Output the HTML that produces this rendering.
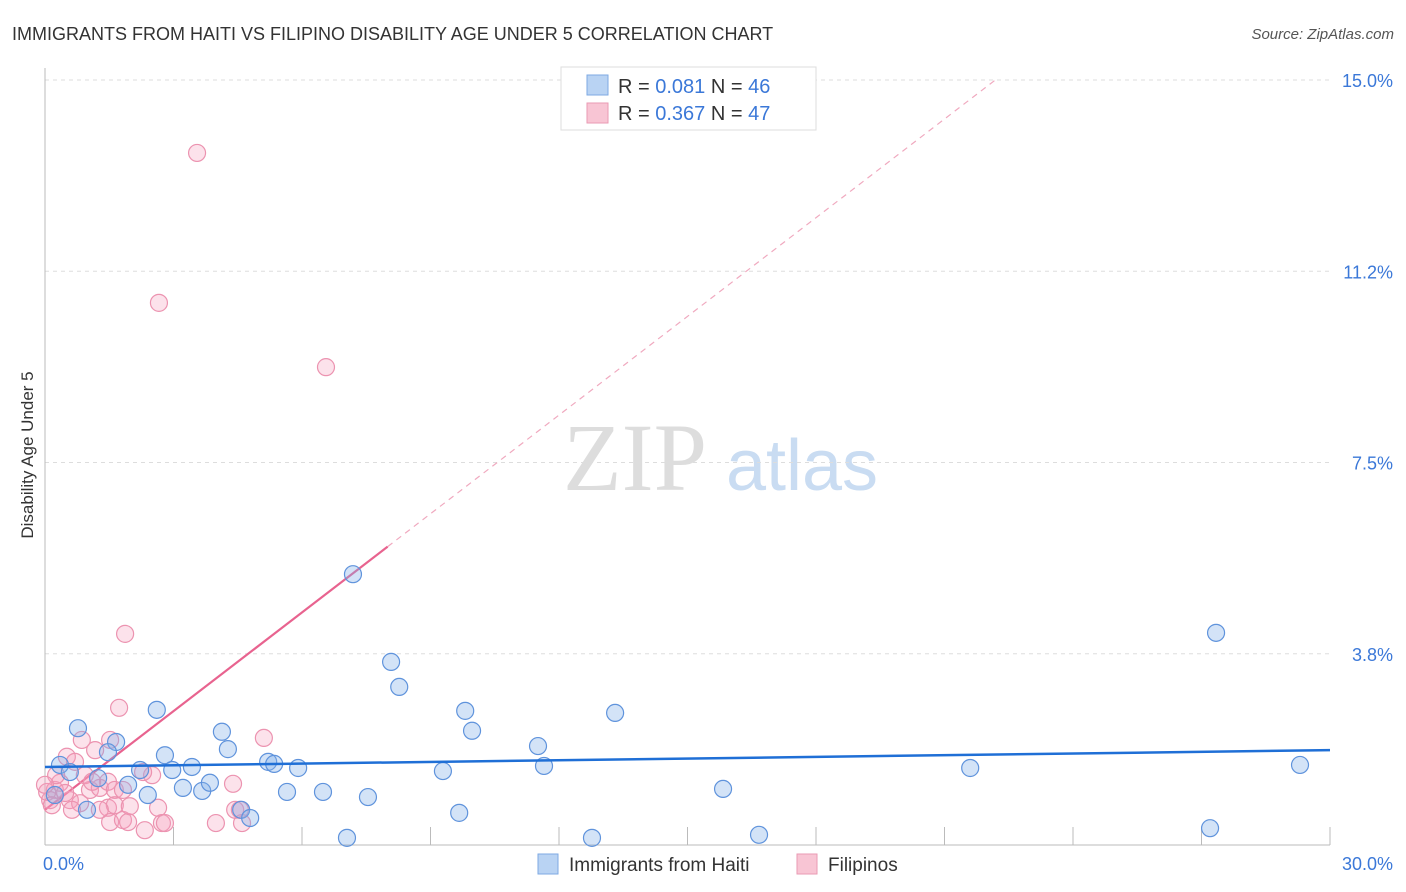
<!DOCTYPE html>
<html><head><meta charset="utf-8">
<style>
body{margin:0;background:#fff;font-family:"Liberation Sans",sans-serif;}
svg{display:block}
</style></head>
<body>
<svg id="chart" width="1406" height="892" xmlns="http://www.w3.org/2000/svg">
<text x="12" y="40" font-size="18" fill="#333">IMMIGRANTS FROM HAITI VS FILIPINO DISABILITY AGE UNDER 5 CORRELATION CHART</text>
<text x="1394" y="39" font-size="15" fill="#555" text-anchor="end" font-style="italic">Source: ZipAtlas.com</text>
<text transform="translate(33,455) rotate(-90)" font-size="17" fill="#333" text-anchor="middle">Disability Age Under 5</text>
<g>
<text x="635" y="490" font-size="96" fill="#ddd" font-family="Liberation Serif,serif" text-anchor="middle">ZIP</text>
<text x="802" y="490" font-size="72" fill="#c9dcf2" text-anchor="middle">atlas</text>
</g>
<g id="grid"></g>
<g id="axes"></g>
<g id="trend"></g>
<g id="pts"></g>
<g>
<rect x="561" y="67" width="255" height="63" fill="#fff" stroke="#ddd"/>
<rect x="587" y="75" width="21" height="20" fill="#b9d3f3" stroke="#7ea9e3"/>
<rect x="587" y="103" width="21" height="20" fill="#f8c5d4" stroke="#ea9ab3"/>
<text x="618" y="93" font-size="20" fill="#333">R = <tspan fill="#3b78d8">0.081</tspan>   N = <tspan fill="#3b78d8">46</tspan></text>
<text x="618" y="120" font-size="20" fill="#333">R = <tspan fill="#3b78d8">0.367</tspan>   N = <tspan fill="#3b78d8">47</tspan></text>
</g>
<g>
<rect x="538" y="854" width="20" height="20" fill="#b9d3f3" stroke="#7ea9e3"/>
<text x="569" y="871" font-size="19" fill="#333">Immigrants from Haiti</text>
<rect x="797" y="854" width="20" height="20" fill="#f8c5d4" stroke="#ea9ab3"/>
<text x="828" y="871" font-size="19" fill="#333">Filipinos</text>
</g>
</svg>
<script>
const xTicks=[0,30];
const xTickLabels=["0.0%","30.0%"];
const yTicks=[3.75,7.5,11.25,15];
const yTickLabels=["3.8%","7.5%","11.2%","15.0%"];
const haitiX=[0.77,0.35,0.58,1.24,1.66,1.47,2.61,2.80,2.97,2.22,1.94,2.40,0.98,3.22,3.43,3.67,3.85,4.13,4.27,4.58,4.79,5.21,5.35,5.91,5.65,6.49,7.05,7.54,7.19,8.08,8.27,9.29,9.81,9.97,9.67,11.51,11.65,12.77,13.31,15.83,16.67,21.60,27.20,27.34,29.30,0.23];
const haitiY=[2.29,1.57,1.43,1.31,2.02,1.82,2.65,1.76,1.47,1.47,1.18,0.98,0.69,1.12,1.53,1.06,1.22,2.22,1.88,0.69,0.53,1.63,1.59,1.51,1.04,1.04,0.14,0.94,5.31,3.59,3.10,1.45,2.63,2.24,0.63,1.94,1.55,0.14,2.59,1.10,0.20,1.51,0.33,4.16,1.57,0.98];
const filX=[3.55,2.66,6.56,1.87,1.73,5.11,1.52,0.86,0.51,0.70,1.17,2.50,2.29,4.39,0.23,0.12,0.35,0.58,0.82,1.05,1.28,1.47,1.63,1.82,1.47,1.63,1.52,1.82,1.94,2.33,2.64,2.73,2.80,3.99,4.44,4.60,0.05,0.16,0.93,0.47,0.26,1.10,1.28,0.63,1.98,4.55,0.00];
const filY=[13.57,10.63,9.37,4.14,2.69,2.10,2.06,2.06,1.73,1.63,1.86,1.37,1.43,1.20,1.08,0.88,1.22,0.88,0.82,1.08,1.12,1.24,1.08,1.08,0.73,0.78,0.45,0.49,0.45,0.29,0.73,0.43,0.43,0.43,0.69,0.43,1.04,0.78,1.37,1.02,1.37,1.24,0.69,0.69,0.76,0.69,1.18];
const haitiTrend=[1.53,1.86];
const filTrend=[0.69,0.645];
const NS="http://www.w3.org/2000/svg";
const X0=45,X1=1330,Y0=845,Y15=80;
const sx=v=>X0+(X1-X0)*v/30;
const sy=v=>Y0-(Y0-Y15)*v/15;
function mk(tag,at,parent){const e=document.createElementNS(NS,tag);for(const k in at)e.setAttribute(k,at[k]);parent.appendChild(e);return e;}
const grid=document.getElementById('grid'),axes=document.getElementById('axes'),trend=document.getElementById('trend'),pts=document.getElementById('pts');
yTicks.forEach((t,i)=>{
 const l=mk('line',{x1:X0,x2:X1,y1:sy(t),y2:sy(t),stroke:'#ddd','stroke-dasharray':'4,4'},grid);
 
 
 const tx=mk('text',{x:1393,y:sy(t)+7,'font-size':18,fill:'#3b78d8','text-anchor':'end'},axes);
 tx.textContent=yTickLabels[i];
 
 
});
mk('line',{x1:X0,x2:X0,y1:68,y2:Y0,stroke:'#bbb'},axes);
mk('line',{x1:X0,x2:X1,y1:Y0,y2:Y0,stroke:'#bbb'},axes);
for(let k=1;k<=10;k++){const l=mk('line',{x1:sx(k*3),x2:sx(k*3),y1:Y0-18,y2:Y0,stroke:'#bbb'},axes);
 
 }
xTicks.forEach((t,i)=>{
 const tx=mk('text',{x:i==0?sx(t)-2:sx(t)+63,y:870,'font-size':18,fill:'#3b78d8','text-anchor':i==0?'start':'end'},axes);
 tx.textContent=xTickLabels[i];
 
 
});
function drawPts(xs,ys,fill,stroke,name){
 xs.forEach((x,i)=>{const c=mk('circle',{cx:sx(x),cy:sy(ys[i]),r:8.5,fill:fill,stroke:stroke,'stroke-width':1.2},pts);
 
 });
}
drawPts(filX,filY,'rgba(244,160,188,0.3)','#ec93b0','point-filipinos');
drawPts(haitiX,haitiY,'rgba(130,175,232,0.35)','#5f93dc','point-haiti');
const fEnd=8.0, fDash=(15-filTrend[0])/filTrend[1];
const fl=mk('line',{x1:sx(0),y1:sy(filTrend[0]),x2:sx(fEnd),y2:sy(filTrend[0]+filTrend[1]*fEnd),stroke:'#e8638f','stroke-width':2.2},trend);


const fd=mk('line',{x1:sx(fEnd),y1:sy(filTrend[0]+filTrend[1]*fEnd),x2:sx(fDash),y2:sy(15),stroke:'#f0a9bf','stroke-width':1.2,'stroke-dasharray':'6,5'},trend);


const hl=mk('line',{x1:sx(0),y1:sy(haitiTrend[0]),x2:sx(30),y2:sy(haitiTrend[1]),stroke:'#1f6fd6','stroke-width':2.5},pts);


</script>
</body></html>
